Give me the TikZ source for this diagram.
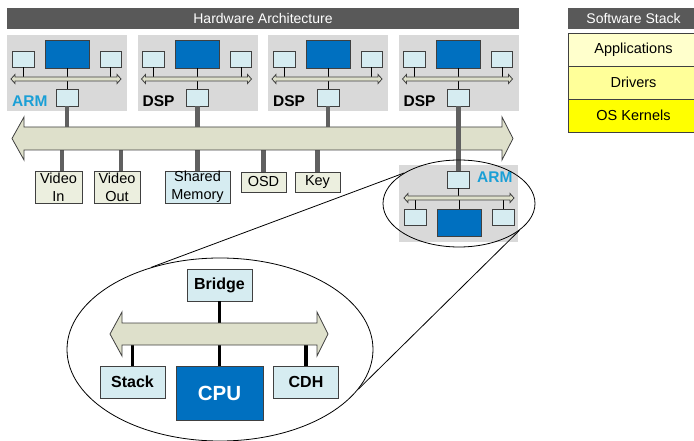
\documentclass[tikz,border=0pt]{standalone}
\usepackage{fontspec}
\setmainfont{Liberation Sans}
\usetikzlibrary{shapes.geometric}
\definecolor{titlegray}{HTML}{595959}
\definecolor{modgray}{HTML}{D9D9D9}
\definecolor{lblue}{HTML}{D6ECF1}
\definecolor{dblue}{HTML}{0070C0}
\definecolor{busfill}{HTML}{DEE0CB}
\definecolor{perfill}{HTML}{ECEFDF}
\definecolor{armblue}{HTML}{1A9FD6}
\definecolor{conngray}{HTML}{606060}
\definecolor{boxline}{HTML}{404040}
\definecolor{appfill}{HTML}{FFFFCC}
\definecolor{drvfill}{HTML}{FFFF99}
\definecolor{oskfill}{HTML}{FFFF00}
\tikzset{
  lbx/.style={draw=boxline, fill=lblue, line width=0.8pt, inner sep=0pt},
  dbx/.style={draw=boxline, fill=dblue, line width=0.8pt, inner sep=0pt},
  modbox/.style={fill=modgray, inner sep=0pt},
  busshape/.style={draw=boxline, fill=busfill, line width=0.8pt},
  thinconn/.style={draw=black, line width=0.9pt},
  conn/.style={draw=conngray, line width=4.5pt},
  bconn/.style={draw=black, line width=3.8pt},
  per/.style={draw=boxline, fill=perfill, line width=0.8pt, inner sep=0pt, align=center, font=\fontsize{14.5}{18}\selectfont},
  titlebar/.style={fill=titlegray, text=white, inner sep=0pt, font=\fontsize{14}{17}\selectfont},
  stk/.style={draw=boxline, line width=0.8pt, inner sep=0pt, font=\fontsize{14.5}{17}\selectfont},
  plab/.style={inner sep=0pt, font=\fontsize{15.5}{18}\selectfont\bfseries, anchor=west},
  inbox/.style={draw=boxline, fill=lblue, line width=0.8pt, inner sep=0pt, font=\fontsize{16}{18}\selectfont\bfseries},
  zoomell/.style={draw=black, ellipse, inner sep=0pt, line width=0.8pt},
  tang/.style={draw=black, line width=0.8pt},
}
\begin{document}
\begin{tikzpicture}[x=1pt,y=-1pt]
\useasboundingbox (0,0) rectangle (694,441);

% title bars and software stack
\node[titlebar, minimum width=512pt, minimum height=21pt] (hw) at (263,18.5) {Hardware Architecture};
\node[titlebar, minimum width=131pt, minimum height=21pt] (sw) at (633.5,18.5) {Software Stack};
\node[stk, fill=appfill, minimum width=131pt, minimum height=33pt] (apps) at (633.5,49.5) {Applications};
\node[stk, fill=drvfill, minimum width=131pt, minimum height=33pt] (drvs) at (633.5,82.5) {Drivers};
\node[stk, fill=oskfill, minimum width=131pt, minimum height=33pt] (osk) at (633.5,115.5) {OS Kernels};

% processor modules
\foreach \i/\x/\lab/\col in {1/7/ARM/armblue,2/137.5/DSP/black,3/268/DSP/black,4/398.5/DSP/black}{
\begin{scope}[shift={(\x,0)}]
  \node[modbox, minimum width=120pt, minimum height=76pt] (mod\i) at (60,73) {};
  \coordinate (mbt\i) at (0,77);
  \coordinate (mbb\i) at (0,81);
  \node[lbx, minimum width=22pt, minimum height=16pt] (ml\i) at (16,59) {};
  \node[dbx, minimum width=44pt, minimum height=28pt] (mc\i) at (60,54) {};
  \node[lbx, minimum width=21pt, minimum height=16pt] (mr\i) at (103.5,59) {};
  \node[lbx, minimum width=22pt, minimum height=17pt] (mb\i) at (60,97.5) {};
  \draw[thinconn] (ml\i.south) -- (ml\i.south |- mbt\i);
  \draw[thinconn] (mc\i.south) -- (mc\i.south |- mbt\i);
  \draw[thinconn] (mr\i.south) -- (mr\i.south |- mbt\i);
  \draw[thinconn] (mb\i.north) -- (mb\i.north |- mbb\i);
  \draw[busshape] (4,79) -- (8,74.5) -- (8,77) -- (110,77) -- (110,74.5) -- (114,79)
     -- (110,83.5) -- (110,81) -- (8,81) -- (8,83.5) -- cycle;
  \node[plab, text=\col] (lab\i) at (5,101) {\lab};
\end{scope}
}

% main bus connectors
\coordinate (bt) at (0,127);
\coordinate (bb) at (0,150);
\foreach \i in {1,2,3} \draw[conn] (mb\i.south) -- (mb\i.south |- bt);

% peripherals
\node[per, minimum width=47pt, minimum height=32pt] (vin) at (58.5,187) {Video\\In};
\node[per, minimum width=46pt, minimum height=32pt] (vout) at (117,187) {Video\\Out};
\node[per, fill=lblue, minimum width=65pt, minimum height=32pt] (shm) at (197.5,187) {Shared\\Memory};
\node[per, minimum width=45pt, minimum height=20pt] (osd) at (263.5,182) {OSD};
\node[per, minimum width=45pt, minimum height=20pt] (key) at (317.5,182) {Key};
\draw[conn] ([xshift=3.5pt]vin.north) -- ([xshift=3.5pt]vin.north |- bb);
\draw[conn] ([xshift=4pt]vout.north) -- ([xshift=4pt]vout.north |- bb);
\draw[conn] (shm.north) -- (shm.north |- bb);
\draw[conn] (osd.north) -- (osd.north |- bb);
\draw[conn] (key.north) -- (key.north |- bb);

% main bus
\draw[busshape] (12,138.5) -- (24,117) -- (24,127) -- (502,127) -- (502,117) -- (513,138.5)
   -- (502,160) -- (502,150) -- (24,150) -- (24,160) -- cycle;

% fifth (ARM) module
\node[modbox, minimum width=119pt, minimum height=77pt] (mod5) at (458.5,203.5) {};
\node[lbx, minimum width=22pt, minimum height=17pt] (ab) at (458.5,179.5) {};
\node[plab, text=armblue] (lab5) at (477,177.5) {ARM};
\coordinate (abt) at (0,196);
\coordinate (abb) at (0,200);
\node[lbx, minimum width=22pt, minimum height=16pt] (al) at (415,217) {};
\node[dbx, minimum width=44pt, minimum height=27pt] (ac) at (459.5,222.5) {};
\node[lbx, minimum width=22pt, minimum height=16pt] (ar) at (503,217) {};
\draw[thinconn] (ab.south) -- (ab.south |- abt);
\draw[thinconn] (al.north) -- (al.north |- abb);
\draw[thinconn] (ac.north) -- (ac.north |- abb);
\draw[thinconn] (ar.north) -- (ar.north |- abb);
\draw[busshape] (404,198) -- (408,193.5) -- (408,196) -- (510,196) -- (510,193.5) -- (514,198)
   -- (510,202.5) -- (510,200) -- (408,200) -- (408,202.5) -- cycle;
\draw[conn] (mb4.south) -- (ab.north);

% zoom ellipses
\node[zoomell, minimum width=152pt, minimum height=87pt] (zs) at (459,203.5) {};
\node[zoomell, minimum width=306pt, minimum height=183pt] (zb) at (220,349.5) {};
\draw[tang] (zs.151.8) -- (zb.130.8);
\draw[tang] (zs.336.5) -- (zb.344.4);

% zoomed content
\node[inbox, minimum width=65pt, minimum height=32pt] (bridge) at (219.5,285) {Bridge};
\coordinate (ibt) at (0,323);
\coordinate (ibb) at (0,345);
\node[inbox, minimum width=65pt, minimum height=32pt] (stack) at (132.5,382) {Stack};
\node[dbx, minimum width=87pt, minimum height=54pt, text=white, font=\fontsize{20.5}{22}\selectfont\bfseries] (cpu) at (219.5,393) {CPU};
\node[inbox, minimum width=65pt, minimum height=32pt] (cdh) at (306,382) {CDH};
\draw[bconn] (bridge.south) -- (bridge.south |- ibt);
\draw[bconn] (stack.north) -- (stack.north |- ibb);
\draw[bconn] (cpu.north) -- (cpu.north |- ibb);
\draw[bconn] (cdh.north) -- (cdh.north |- ibb);
\draw[busshape] (110,334) -- (122,312) -- (122,323) -- (317,323) -- (317,312) -- (328,334)
   -- (317,356) -- (317,345) -- (122,345) -- (122,356) -- cycle;
\end{tikzpicture}
\end{document}
